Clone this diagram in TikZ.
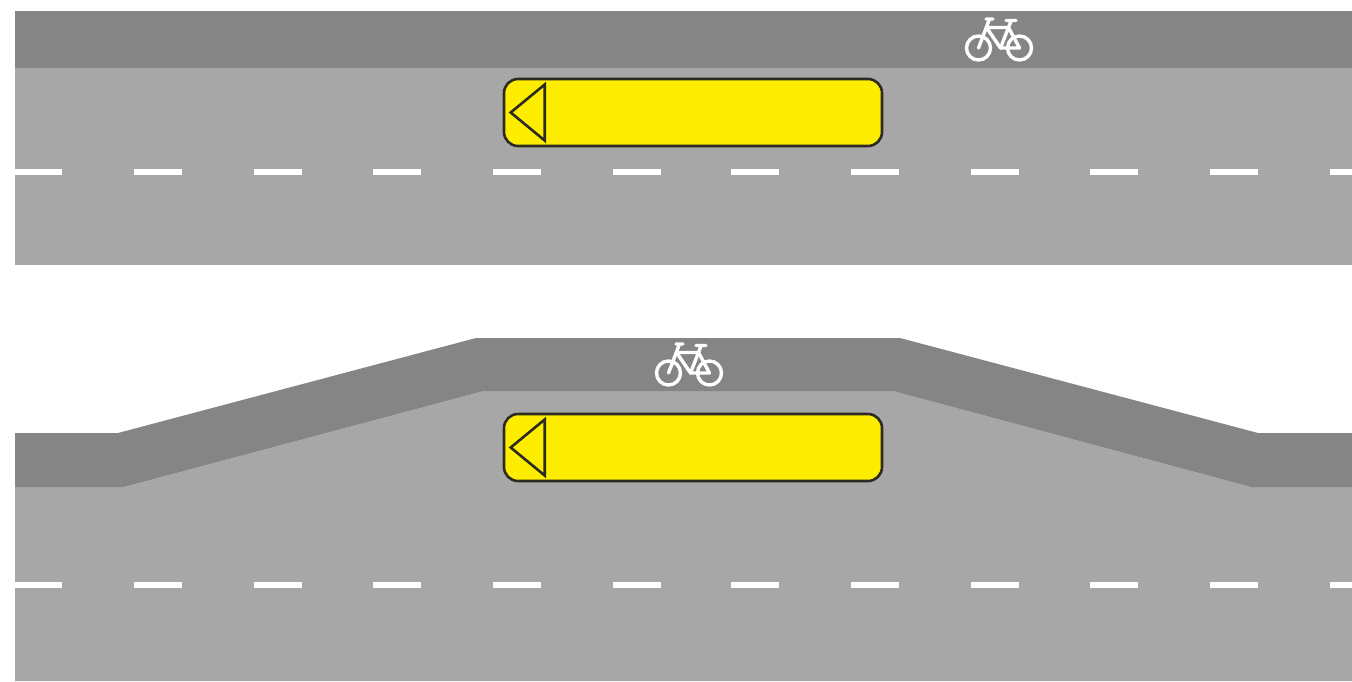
\documentclass[tikz,border=0pt]{standalone}
\usepackage{xcolor}
\usetikzlibrary{positioning,calc}
\definecolor{roadgrey}{HTML}{A7A7A7}
\definecolor{lanegrey}{HTML}{858585}
\definecolor{stopyellow}{HTML}{FFED00}
\definecolor{stopline}{HTML}{2B2B23}
\tikzset{
  stop/.style = {draw=stopline, fill=stopyellow, line width=2.6pt, rounded corners=14pt, minimum width=378pt, minimum height=67pt, inner sep=0pt},
  stoparrow/.style = {draw=stopline, line width=2.6pt, line join=miter},
  roadmark/.style = {draw=white, line width=6pt},
  bikeline/.style = {draw=white, line width=3.4pt, line cap=round, line join=round},
  pics/bike/.style = {code={
    \draw[bikeline] (-20.5,0) circle [radius=12];
    \draw[bikeline] (20.5,0) circle [radius=12];
    \draw[bikeline] (-20.5,0) -- (-9.5,-29) (-13,-29) -- (-6,-29);
    \draw[bikeline] (-12.5,-20.5) -- (9.5,-20.5) -- (1.5,0) -- cycle;
    \draw[bikeline] (1.5,0) -- (20.5,0) -- (9.5,-20.5) -- (12,-27) (7,-27.5) -- (17,-27.5);
  }}
}
\begin{document}
\begin{tikzpicture}[x=1pt, y=-1pt]
\useasboundingbox (0,0) rectangle (1352,681);

% upper road
\fill[roadgrey] (15,11) rectangle (1352,265);
\fill[lanegrey] (15,11) rectangle (1352,68);

% lower road
\fill[roadgrey] (15,487) -- (124,487) -- (484,391) -- (893,391) -- (1251,487) -- (1352,487) -- (1352,681) -- (15,681) -- cycle;
\fill[lanegrey] (15,433) -- (118,433) -- (476,338) -- (900,338) -- (1258,433) -- (1352,433) -- (1352,487) -- (1251,487) -- (893,391) -- (484,391) -- (124,487) -- (15,487) -- cycle;

% centre lines
\draw[roadmark] (15,171.5) -- (62,171.5);
\draw[roadmark] (15,584.5) -- (62,584.5);
\foreach \x in {134,253.5,373,492.5,612.5,731,851,970.5,1090,1209.5} {
  \draw[roadmark] (\x,171.5) -- +(48,0);
  \draw[roadmark] (\x,584.5) -- +(48,0);
}
\draw[roadmark] (1330,171.5) -- (1352,171.5);
\draw[roadmark] (1330,584.5) -- (1352,584.5);

% bus stops
\foreach \name/\ypos in {a/112.5,b/447.5} {
  \node[stop] (stop\name) at (693,\ypos) {};
  \draw[stoparrow] ($(stop\name.west)+(8,0)$) -- ($(stop\name.west)+(42,-28)$) -- ($(stop\name.west)+(42,28)$) -- cycle;
}

% bikes
\pic at (999,48) {bike};
\pic at (689,373) {bike};
\end{tikzpicture}
\end{document}
